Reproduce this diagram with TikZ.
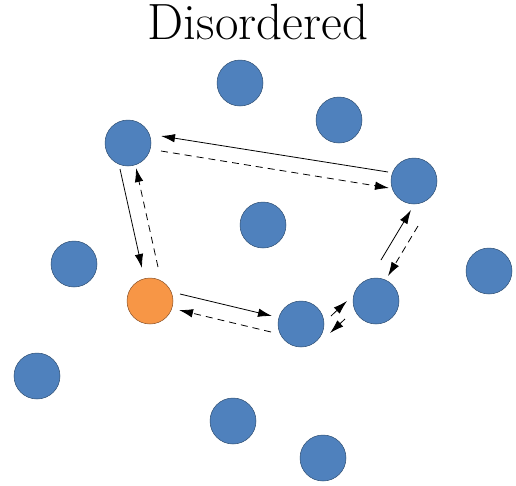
\documentclass[tikz,border=0pt]{standalone}
\usetikzlibrary{arrows.meta}
\definecolor{ballblue}{HTML}{4F81BD}
\definecolor{ballblueedge}{HTML}{2F4F73}
\definecolor{ballorange}{HTML}{F79646}
\definecolor{ballorangeedge}{HTML}{8A5228}
\begin{document}
\begin{tikzpicture}[x=1pt,y=-1pt,
  ball/.style={circle,minimum size=46pt,inner sep=0pt,fill=ballblue,draw=ballblueedge,line width=0.5pt},
  hot/.style={ball,fill=ballorange,draw=ballorangeedge},
  hop/.style={line width=0.8pt,-{Latex[length=14pt,width=8.5pt]}},
  back/.style={hop,dash pattern=on 7pt off 5pt}]
\useasboundingbox (0,0) rectangle (516,485);
\node[font=\fontsize{51}{55}\selectfont,anchor=base,inner sep=0pt] (title) at (258,39.5) {Disordered};
% particles
\node[ball] (p1) at (240,83) {};
\node[ball] (p2) at (339,120) {};
\node[ball] (p3) at (128,143) {};
\node[ball] (p4) at (414,181) {};
\node[ball] (p5) at (263,225) {};
\node[ball] (p6) at (74,264) {};
\node[ball] (p7) at (489,271) {};
\node[hot]  (p8) at (150,301) {};
\node[ball] (p9) at (376,301) {};
\node[ball] (p10) at (301,324) {};
\node[ball] (p11) at (37,376) {};
\node[ball] (p12) at (233,421) {};
\node[ball] (p13) at (323,458) {};
% hop endpoints
\coordinate (a1) at (388,172); \coordinate (a2) at (161,136);
\coordinate (b1) at (161,151); \coordinate (b2) at (389,188);
\coordinate (c1) at (120,169); \coordinate (c2) at (142,268);
\coordinate (d1) at (158,267); \coordinate (d2) at (136,168);
\coordinate (e1) at (180,294); \coordinate (e2) at (272,316);
\coordinate (f1) at (271,332); \coordinate (f2) at (179,310);
\coordinate (g1) at (331,316); \coordinate (g2) at (347,301);
\coordinate (h1) at (345,319); \coordinate (h2) at (330,333);
\coordinate (i1) at (381,260); \coordinate (i2) at (411,210);
\coordinate (j1) at (418,226); \coordinate (j2) at (388,276);
% hops along the loop
\draw[hop]  (a1) -- (a2);
\draw[back] (b1) -- (b2);
\draw[hop]  (c1) -- (c2);
\draw[back] (d1) -- (d2);
\draw[hop]  (e1) -- (e2);
\draw[back] (f1) -- (f2);
\draw[hop]  (g1) -- (g2);
\draw[back] (h1) -- (h2);
\draw[hop]  (i1) -- (i2);
\draw[back] (j1) -- (j2);
\end{tikzpicture}
\end{document}
